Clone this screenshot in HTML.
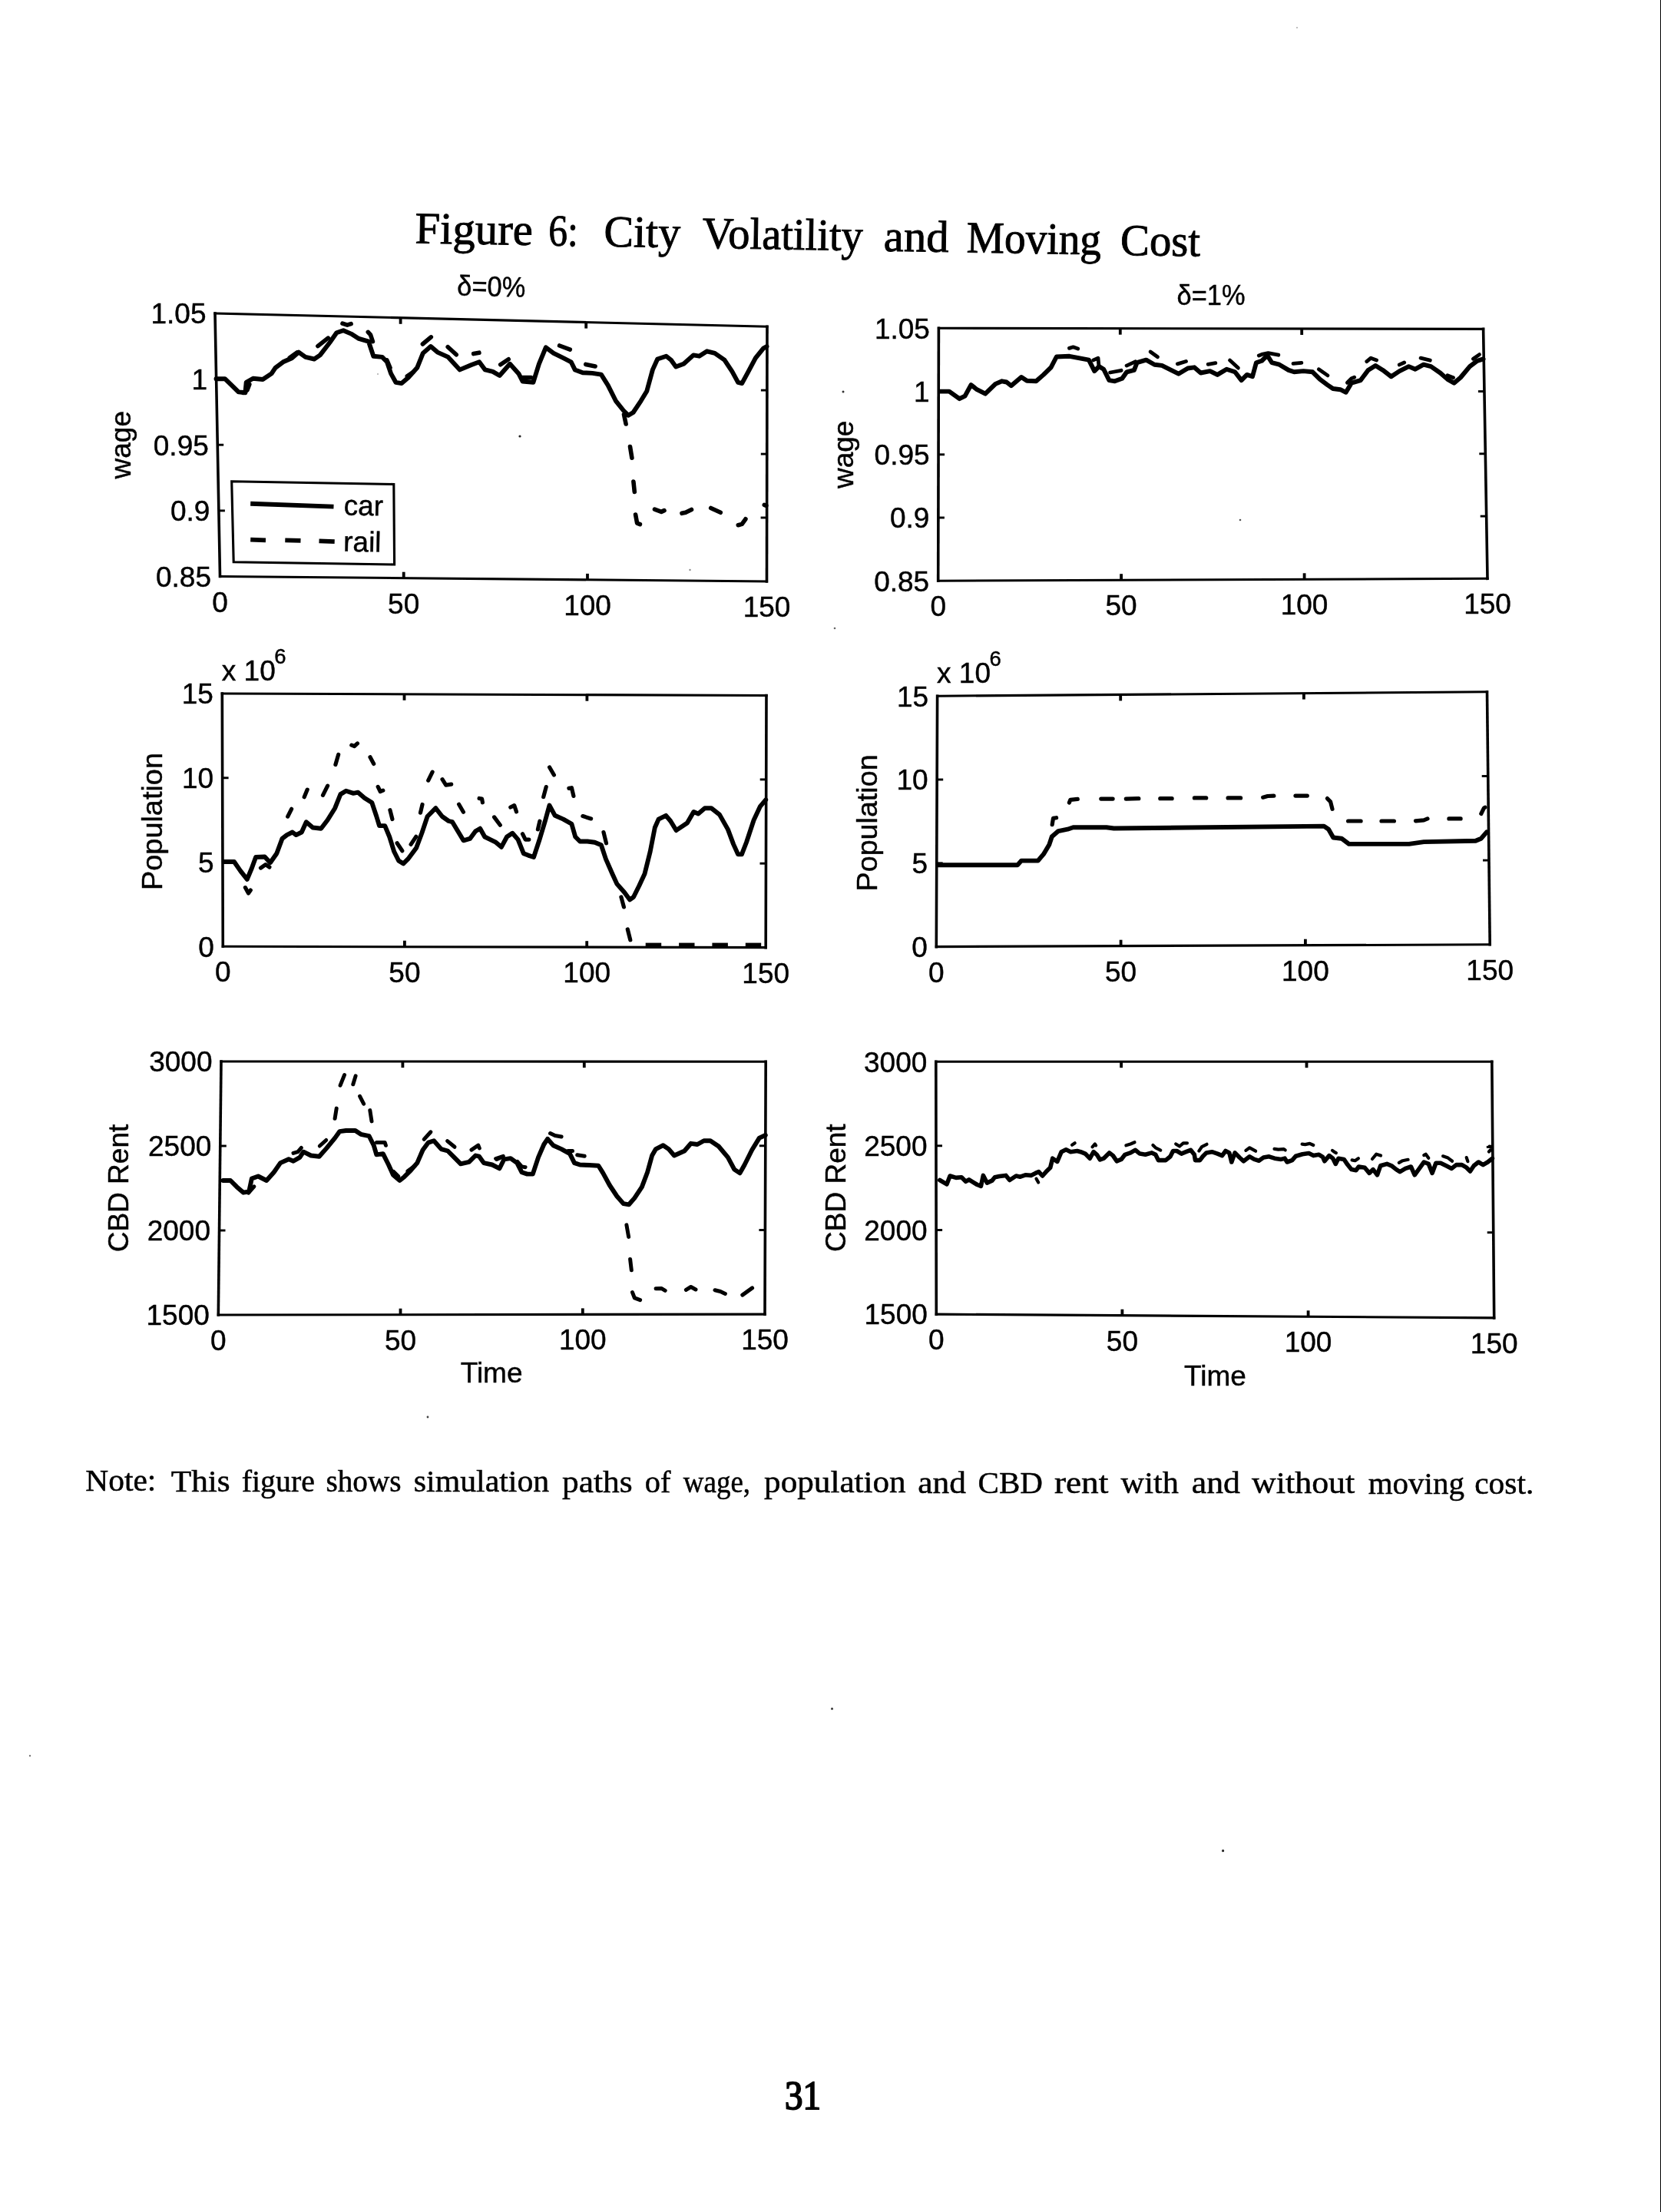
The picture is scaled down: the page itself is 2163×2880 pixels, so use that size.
<!DOCTYPE html>
<html><head><meta charset="utf-8"><title>Figure 6</title>
<style>html,body{margin:0;padding:0;background:#fff;}svg{display:block;}</style></head>
<body>
<svg width="2163" height="2880" viewBox="0 0 2163 2880">
<rect width="2163" height="2880" fill="#fff"/>
<defs><filter id="sc" x="0" y="0" width="100%" height="100%" filterUnits="objectBoundingBox"><feGaussianBlur stdDeviation="0.55"/></filter></defs>
<g filter="url(#sc)">
<rect width="2163" height="2880" fill="#fff"/>
<text x="540.2" y="316.6" font-size="58" font-family='"Liberation Serif", serif' text-anchor="start" transform="rotate(0.9 540.2 316.6)" textLength="153.4" lengthAdjust="spacingAndGlyphs" stroke="#000" stroke-width="0.9">Figure</text>
<text x="713.9" y="319.5" font-size="58" font-family='"Liberation Serif", serif' text-anchor="start" transform="rotate(0.9 713.9 319.5)" textLength="38.7" lengthAdjust="spacingAndGlyphs" stroke="#000" stroke-width="0.9">6:</text>
<text x="786.3" y="320.7" font-size="58" font-family='"Liberation Serif", serif' text-anchor="start" transform="rotate(0.9 786.3 320.7)" textLength="99.5" lengthAdjust="spacingAndGlyphs" stroke="#000" stroke-width="0.9">City</text>
<text x="914.5" y="322.8" font-size="58" font-family='"Liberation Serif", serif' text-anchor="start" transform="rotate(0.9 914.5 322.8)" textLength="209.1" lengthAdjust="spacingAndGlyphs" stroke="#000" stroke-width="0.9">Volatility</text>
<text x="1150.6" y="326.7" font-size="58" font-family='"Liberation Serif", serif' text-anchor="start" transform="rotate(0.9 1150.6 326.7)" textLength="84.7" lengthAdjust="spacingAndGlyphs" stroke="#000" stroke-width="0.9">and</text>
<text x="1258.5" y="328.5" font-size="58" font-family='"Liberation Serif", serif' text-anchor="start" transform="rotate(0.9 1258.5 328.5)" textLength="175.3" lengthAdjust="spacingAndGlyphs" stroke="#000" stroke-width="0.9">Moving</text>
<text x="1458.8" y="331.9" font-size="58" font-family='"Liberation Serif", serif' text-anchor="start" transform="rotate(0.9 1458.8 331.9)" textLength="104.1" lengthAdjust="spacingAndGlyphs" stroke="#000" stroke-width="0.9">Cost</text>
<line x1="280" y1="408" x2="999" y2="425.2" stroke="#000" stroke-width="3.1" stroke-linecap="square"/>
<line x1="286.5" y1="750.5" x2="998.5" y2="757" stroke="#000" stroke-width="3.1" stroke-linecap="square"/>
<line x1="280" y1="408" x2="286.5" y2="750.5" stroke="#000" stroke-width="3.6" stroke-linecap="square"/>
<line x1="999" y1="425.2" x2="998.5" y2="757" stroke="#000" stroke-width="3.6" stroke-linecap="square"/>
<line x1="521.6" y1="413.8" x2="521.6" y2="421.8" stroke="#000" stroke-width="3.8"/>
<line x1="525.7" y1="752.7" x2="525.7" y2="744.7" stroke="#000" stroke-width="3.8"/>
<line x1="763.2" y1="419.6" x2="763.2" y2="427.6" stroke="#000" stroke-width="3.8"/>
<line x1="765" y1="754.9" x2="765" y2="746.9" stroke="#000" stroke-width="3.8"/>
<line x1="281.6" y1="493.6" x2="289.6" y2="493.6" stroke="#000" stroke-width="2.9"/>
<line x1="998.9" y1="508.1" x2="990.9" y2="508.1" stroke="#000" stroke-width="2.9"/>
<line x1="283.2" y1="579.2" x2="291.2" y2="579.2" stroke="#000" stroke-width="2.9"/>
<line x1="998.8" y1="591.1" x2="990.8" y2="591.1" stroke="#000" stroke-width="2.9"/>
<line x1="284.9" y1="664.9" x2="292.9" y2="664.9" stroke="#000" stroke-width="2.9"/>
<line x1="998.6" y1="674" x2="990.6" y2="674" stroke="#000" stroke-width="2.9"/>
<text x="268.5" y="421.3" font-size="37" font-family='"Liberation Sans", sans-serif' text-anchor="end"  stroke="#000" stroke-width="0.45">1.05</text>
<text x="270.1" y="506.9" font-size="37" font-family='"Liberation Sans", sans-serif' text-anchor="end"  stroke="#000" stroke-width="0.45">1</text>
<text x="271.8" y="592.5" font-size="37" font-family='"Liberation Sans", sans-serif' text-anchor="end"  stroke="#000" stroke-width="0.45">0.95</text>
<text x="273.4" y="678.2" font-size="37" font-family='"Liberation Sans", sans-serif' text-anchor="end"  stroke="#000" stroke-width="0.45">0.9</text>
<text x="275" y="763.8" font-size="37" font-family='"Liberation Sans", sans-serif' text-anchor="end"  stroke="#000" stroke-width="0.45">0.85</text>
<text x="286.5" y="796.5" font-size="37" font-family='"Liberation Sans", sans-serif' text-anchor="middle"  stroke="#000" stroke-width="0.45">0</text>
<text x="525.7" y="798.7" font-size="37" font-family='"Liberation Sans", sans-serif' text-anchor="middle"  stroke="#000" stroke-width="0.45">50</text>
<text x="765" y="800.9" font-size="37" font-family='"Liberation Sans", sans-serif' text-anchor="middle"  stroke="#000" stroke-width="0.45">100</text>
<text x="998.5" y="803" font-size="37" font-family='"Liberation Sans", sans-serif' text-anchor="middle"  stroke="#000" stroke-width="0.45">150</text>
<text x="169.8" y="579.2" font-size="37" font-family='"Liberation Sans", sans-serif' text-anchor="middle" transform="rotate(-90 169.8 579.2)"  stroke="#000" stroke-width="0.45">wage</text>
<text x="639.5" y="385.6" font-size="37" font-family='"Liberation Sans", sans-serif' text-anchor="middle" transform="rotate(1.3 639.5 385.6)" textLength="89" lengthAdjust="spacingAndGlyphs" stroke="#000" stroke-width="0.45">δ=0%</text>
<polyline points="316.7,511.4 321.9,507.9 324.8,500.4" fill="none" stroke="#000" stroke-width="5.6" stroke-linejoin="round" stroke-linecap="round"/>
<polyline points="446,421.1 452.2,423.2 457.1,421.6" fill="none" stroke="#000" stroke-width="5.6" stroke-linejoin="round" stroke-linecap="round"/>
<polyline points="413.9,450.6 427.2,440.1" fill="none" stroke="#000" stroke-width="5.6" stroke-linejoin="round" stroke-linecap="round"/>
<polyline points="479.3,432.4 482.5,435.9 485.4,444.6" fill="none" stroke="#000" stroke-width="5.6" stroke-linejoin="round" stroke-linecap="round"/>
<polyline points="377.3,465.8 386.7,459" fill="none" stroke="#000" stroke-width="5.6" stroke-linejoin="round" stroke-linecap="round"/>
<polyline points="550.4,448 561.3,438.9" fill="none" stroke="#000" stroke-width="5.6" stroke-linejoin="round" stroke-linecap="round"/>
<polyline points="583.2,451.7 594.2,461.8" fill="none" stroke="#000" stroke-width="5.6" stroke-linejoin="round" stroke-linecap="round"/>
<polyline points="616.7,460.6 623.9,459.2" fill="none" stroke="#000" stroke-width="5.6" stroke-linejoin="round" stroke-linecap="round"/>
<polyline points="651.7,474.8 662.2,467.7" fill="none" stroke="#000" stroke-width="5.6" stroke-linejoin="round" stroke-linecap="round"/>
<polyline points="503.8,468.8 508,478.8" fill="none" stroke="#000" stroke-width="5.6" stroke-linejoin="round" stroke-linecap="round"/>
<polyline points="530.3,489.9 538.4,484.2" fill="none" stroke="#000" stroke-width="5.6" stroke-linejoin="round" stroke-linecap="round"/>
<polyline points="680.7,491.5 691.6,491.5" fill="none" stroke="#000" stroke-width="5.6" stroke-linejoin="round" stroke-linecap="round"/>
<polyline points="728.6,450 742.3,455.1" fill="none" stroke="#000" stroke-width="5.6" stroke-linejoin="round" stroke-linecap="round"/>
<polyline points="762.8,474.4 775.1,477" fill="none" stroke="#000" stroke-width="5.6" stroke-linejoin="round" stroke-linecap="round"/>
<polyline points="812.5,539.7 815.1,552" fill="none" stroke="#000" stroke-width="5.6" stroke-linejoin="round" stroke-linecap="round"/>
<polyline points="820.5,581.5 822.9,596.2" fill="none" stroke="#000" stroke-width="5.6" stroke-linejoin="round" stroke-linecap="round"/>
<polyline points="824.9,627 826.3,640.4" fill="none" stroke="#000" stroke-width="5.6" stroke-linejoin="round" stroke-linecap="round"/>
<polyline points="827.6,670 829.6,681.1 833.4,682.6" fill="none" stroke="#000" stroke-width="5.6" stroke-linejoin="round" stroke-linecap="round"/>
<polyline points="852.5,663.1 861.2,666.4 865,664.6" fill="none" stroke="#000" stroke-width="5.6" stroke-linejoin="round" stroke-linecap="round"/>
<polyline points="888,668.3 892.8,667.2 900.5,663.4" fill="none" stroke="#000" stroke-width="5.6" stroke-linejoin="round" stroke-linecap="round"/>
<polyline points="925.7,661.5 938.3,667.3" fill="none" stroke="#000" stroke-width="5.6" stroke-linejoin="round" stroke-linecap="round"/>
<polyline points="961.3,683.7 966.2,682.4 970.9,675.8" fill="none" stroke="#000" stroke-width="5.6" stroke-linejoin="round" stroke-linecap="round"/>
<polyline points="995.3,657.4 997.8,658.4" fill="none" stroke="#000" stroke-width="5.6" stroke-linejoin="round" stroke-linecap="round"/>
<polyline points="281.5,493.2 292.9,493.2 301.7,501.6 310.6,510.4 319.4,511.2 320.7,497.8 329.5,492.7 342.2,494 353.6,486.4 358.6,478.8 368.7,471.3 380.1,466.2 389,458.6 397.8,464.9 409.2,467.5 416.8,462.4 429.4,446 438.3,433.3 447.1,430.3 457.2,434.6 467.3,440.9 480,444.7 486.3,463.7 497.7,464.9 504,471.3 509.1,486.4 515.4,497.8 523,499.1 531.8,491.5 543.2,478.8 550.8,459.9 560.9,451 569.7,458.6 583.6,464.9 598.8,481.4 614,475 624.1,471.3 631.7,481.4 641.8,483.9 650.6,489 664,473.8 675.4,486.4 680.5,496.5 694.4,497.8 701.9,473.8 710.8,452.3 720.9,459.9 733.6,466.2 743.7,471.3 748.7,481.4 758.8,485.2 771.5,485.9 782.9,487.7 791.7,501.6 801.8,521.8 811.9,534.5 818.3,540.8 824.6,537 834.7,521.8 842.3,509.2 849.9,481.4 856.2,467.5 867.6,463.7 873.9,468.7 880.2,477.6 890.3,473.8 903,462.4 910.5,463.7 920.7,457.3 930.8,459.9 943.4,468.7 953.5,483.9 961.1,497.8 966.2,499.1 973.8,485.2 983.9,466.2 994,453.6 998.5,451" fill="none" stroke="#000" stroke-width="5.9" stroke-linejoin="round" stroke-linecap="round"/>
<line x1="1222.4" y1="427.3" x2="1931.6" y2="428.4" stroke="#000" stroke-width="3.1" stroke-linecap="square"/>
<line x1="1221.7" y1="756.2" x2="1937" y2="753.3" stroke="#000" stroke-width="3.1" stroke-linecap="square"/>
<line x1="1222.4" y1="427.3" x2="1221.7" y2="756.2" stroke="#000" stroke-width="3.6" stroke-linecap="square"/>
<line x1="1931.6" y1="428.4" x2="1937" y2="753.3" stroke="#000" stroke-width="3.6" stroke-linecap="square"/>
<line x1="1458.8" y1="427.7" x2="1458.8" y2="435.7" stroke="#000" stroke-width="3.8"/>
<line x1="1460.1" y1="755.2" x2="1460.1" y2="747.2" stroke="#000" stroke-width="3.8"/>
<line x1="1695.2" y1="428" x2="1695.2" y2="436" stroke="#000" stroke-width="3.8"/>
<line x1="1698.6" y1="754.3" x2="1698.6" y2="746.3" stroke="#000" stroke-width="3.8"/>
<line x1="1222.2" y1="509.5" x2="1230.2" y2="509.5" stroke="#000" stroke-width="2.9"/>
<line x1="1932.9" y1="509.6" x2="1924.9" y2="509.6" stroke="#000" stroke-width="2.9"/>
<line x1="1222.1" y1="591.8" x2="1230.1" y2="591.8" stroke="#000" stroke-width="2.9"/>
<line x1="1934.3" y1="590.8" x2="1926.3" y2="590.8" stroke="#000" stroke-width="2.9"/>
<line x1="1221.9" y1="674" x2="1229.9" y2="674" stroke="#000" stroke-width="2.9"/>
<line x1="1935.7" y1="672.1" x2="1927.7" y2="672.1" stroke="#000" stroke-width="2.9"/>
<text x="1210.9" y="440.6" font-size="37" font-family='"Liberation Sans", sans-serif' text-anchor="end"  stroke="#000" stroke-width="0.45">1.05</text>
<text x="1210.7" y="522.8" font-size="37" font-family='"Liberation Sans", sans-serif' text-anchor="end"  stroke="#000" stroke-width="0.45">1</text>
<text x="1210.6" y="605" font-size="37" font-family='"Liberation Sans", sans-serif' text-anchor="end"  stroke="#000" stroke-width="0.45">0.95</text>
<text x="1210.4" y="687.3" font-size="37" font-family='"Liberation Sans", sans-serif' text-anchor="end"  stroke="#000" stroke-width="0.45">0.9</text>
<text x="1210.2" y="769.5" font-size="37" font-family='"Liberation Sans", sans-serif' text-anchor="end"  stroke="#000" stroke-width="0.45">0.85</text>
<text x="1221.7" y="802.2" font-size="37" font-family='"Liberation Sans", sans-serif' text-anchor="middle"  stroke="#000" stroke-width="0.45">0</text>
<text x="1460.1" y="801.2" font-size="37" font-family='"Liberation Sans", sans-serif' text-anchor="middle"  stroke="#000" stroke-width="0.45">50</text>
<text x="1698.6" y="800.3" font-size="37" font-family='"Liberation Sans", sans-serif' text-anchor="middle"  stroke="#000" stroke-width="0.45">100</text>
<text x="1937" y="799.3" font-size="37" font-family='"Liberation Sans", sans-serif' text-anchor="middle"  stroke="#000" stroke-width="0.45">150</text>
<text x="1111.3" y="591.8" font-size="37" font-family='"Liberation Sans", sans-serif' text-anchor="middle" transform="rotate(-90 1111.3 591.8)"  stroke="#000" stroke-width="0.45">wage</text>
<text x="1577" y="396.9" font-size="37" font-family='"Liberation Sans", sans-serif' text-anchor="middle" textLength="89" lengthAdjust="spacingAndGlyphs" stroke="#000" stroke-width="0.45">δ=1%</text>
<polyline points="1392.5,453.4 1397.5,451.8 1403.7,454.1" fill="none" stroke="#000" stroke-width="4.8" stroke-linejoin="round" stroke-linecap="round"/>
<polyline points="1423.8,468.9 1430,466.2 1431,477.1" fill="none" stroke="#000" stroke-width="4.8" stroke-linejoin="round" stroke-linecap="round"/>
<polyline points="1445.6,485 1460.1,482.3" fill="none" stroke="#000" stroke-width="4.8" stroke-linejoin="round" stroke-linecap="round"/>
<polyline points="1467.1,476.1 1478.4,470.8" fill="none" stroke="#000" stroke-width="4.8" stroke-linejoin="round" stroke-linecap="round"/>
<polyline points="1498.1,458 1507.5,464.8" fill="none" stroke="#000" stroke-width="4.8" stroke-linejoin="round" stroke-linecap="round"/>
<polyline points="1533.4,473.9 1544.5,470.5" fill="none" stroke="#000" stroke-width="4.8" stroke-linejoin="round" stroke-linecap="round"/>
<polyline points="1573.2,474.3 1582.9,472.6" fill="none" stroke="#000" stroke-width="4.8" stroke-linejoin="round" stroke-linecap="round"/>
<polyline points="1601.5,469.1 1612.4,479.1" fill="none" stroke="#000" stroke-width="4.8" stroke-linejoin="round" stroke-linecap="round"/>
<polyline points="1639.3,462.9 1643.1,461.4 1651.5,459.7 1664.8,462.2" fill="none" stroke="#000" stroke-width="4.8" stroke-linejoin="round" stroke-linecap="round"/>
<polyline points="1684,473.3 1694.9,472.4" fill="none" stroke="#000" stroke-width="4.8" stroke-linejoin="round" stroke-linecap="round"/>
<polyline points="1717.3,480.8 1729,488.9" fill="none" stroke="#000" stroke-width="4.8" stroke-linejoin="round" stroke-linecap="round"/>
<polyline points="1754.4,498.2 1759.9,492.7 1763.7,491.2" fill="none" stroke="#000" stroke-width="4.8" stroke-linejoin="round" stroke-linecap="round"/>
<polyline points="1779.8,470.7 1785.2,466.2 1792.6,469" fill="none" stroke="#000" stroke-width="4.8" stroke-linejoin="round" stroke-linecap="round"/>
<polyline points="1822.3,474.9 1828.7,472" fill="none" stroke="#000" stroke-width="4.8" stroke-linejoin="round" stroke-linecap="round"/>
<polyline points="1850.1,466.1 1862.3,469.2" fill="none" stroke="#000" stroke-width="4.8" stroke-linejoin="round" stroke-linecap="round"/>
<polyline points="1884.9,488.8 1892.5,491.8" fill="none" stroke="#000" stroke-width="4.8" stroke-linejoin="round" stroke-linecap="round"/>
<polyline points="1918.4,467.3 1926.5,461.6" fill="none" stroke="#000" stroke-width="4.8" stroke-linejoin="round" stroke-linecap="round"/>
<polyline points="1224.1,509.6 1236.1,509.6 1249.4,519.2 1256.6,515.6 1264.5,501.1 1272.2,507.2 1283.1,512.7 1296.3,499.9 1304.8,496.3 1310.8,497.5 1316.8,502.3 1330,491 1337.3,495.8 1349.3,496.3 1358.9,487.9 1368.6,478.3 1375.8,464.5 1392.7,463.8 1404.7,466.2 1417.9,468.6 1425.2,483.1 1431.2,477.1 1437.2,480.7 1444.4,495.1 1451.7,496.3 1461.3,492.7 1467.3,484.3 1476.9,481.9 1480.6,472.2 1492.6,468.6 1503.4,474.7 1513.1,475.9 1525.1,481.9 1534.7,486.7 1546.8,479.5 1555.2,478.3 1563.6,485.5 1575.7,483.1 1585.3,487.9 1597.3,480.7 1608.2,484.3 1616.6,495.1 1623.8,487.9 1631,490.3 1635.9,472.2 1643.1,469.8 1650.3,462.6 1656.3,472.2 1666,474.7 1678,481.9 1685.2,484.3 1697.3,483.1 1709.3,484.3 1718.9,493.9 1728.6,501.1 1735.8,506 1745.4,507.2 1752.7,510.8 1759.9,498.7 1771.9,495.1 1781.6,481.9 1791.2,475.9 1800.8,481.9 1811.7,490.3 1822.5,483.1 1834.5,477.1 1843,480.7 1853.8,474.7 1863.4,477.1 1875.5,485.5 1885.1,493.9 1893.5,498.7 1902,491.5 1914,477.1 1923.6,469.8 1931.6,467.4" fill="none" stroke="#000" stroke-width="5.9" stroke-linejoin="round" stroke-linecap="round"/>
<line x1="289.3" y1="903" x2="998" y2="905.5" stroke="#000" stroke-width="3.1" stroke-linecap="square"/>
<line x1="290.3" y1="1232.3" x2="997.2" y2="1233.6" stroke="#000" stroke-width="3.1" stroke-linecap="square"/>
<line x1="289.3" y1="903" x2="290.3" y2="1232.3" stroke="#000" stroke-width="3.6" stroke-linecap="square"/>
<line x1="998" y1="905.5" x2="997.2" y2="1233.6" stroke="#000" stroke-width="3.6" stroke-linecap="square"/>
<line x1="526.5" y1="903.8" x2="526.5" y2="911.8" stroke="#000" stroke-width="3.8"/>
<line x1="526.9" y1="1232.7" x2="526.9" y2="1224.7" stroke="#000" stroke-width="3.8"/>
<line x1="764.4" y1="904.7" x2="764.4" y2="912.7" stroke="#000" stroke-width="3.8"/>
<line x1="764.2" y1="1233.2" x2="764.2" y2="1225.2" stroke="#000" stroke-width="3.8"/>
<line x1="289.6" y1="1012.8" x2="297.6" y2="1012.8" stroke="#000" stroke-width="2.9"/>
<line x1="997.7" y1="1014.9" x2="989.7" y2="1014.9" stroke="#000" stroke-width="2.9"/>
<line x1="290" y1="1122.5" x2="298" y2="1122.5" stroke="#000" stroke-width="2.9"/>
<line x1="997.5" y1="1124.2" x2="989.5" y2="1124.2" stroke="#000" stroke-width="2.9"/>
<text x="277.8" y="916.3" font-size="37" font-family='"Liberation Sans", sans-serif' text-anchor="end"  stroke="#000" stroke-width="0.45">15</text>
<text x="278.1" y="1026.1" font-size="37" font-family='"Liberation Sans", sans-serif' text-anchor="end"  stroke="#000" stroke-width="0.45">10</text>
<text x="278.5" y="1135.8" font-size="37" font-family='"Liberation Sans", sans-serif' text-anchor="end"  stroke="#000" stroke-width="0.45">5</text>
<text x="278.8" y="1245.6" font-size="37" font-family='"Liberation Sans", sans-serif' text-anchor="end"  stroke="#000" stroke-width="0.45">0</text>
<text x="290.3" y="1278.3" font-size="37" font-family='"Liberation Sans", sans-serif' text-anchor="middle"  stroke="#000" stroke-width="0.45">0</text>
<text x="526.9" y="1278.7" font-size="37" font-family='"Liberation Sans", sans-serif' text-anchor="middle"  stroke="#000" stroke-width="0.45">50</text>
<text x="764.2" y="1279.2" font-size="37" font-family='"Liberation Sans", sans-serif' text-anchor="middle"  stroke="#000" stroke-width="0.45">100</text>
<text x="997.2" y="1279.6" font-size="37" font-family='"Liberation Sans", sans-serif' text-anchor="middle"  stroke="#000" stroke-width="0.45">150</text>
<text x="210.9" y="1069.5" font-size="37" font-family='"Liberation Sans", sans-serif' text-anchor="middle" transform="rotate(-90 210.9 1069.5)" textLength="179" lengthAdjust="spacingAndGlyphs" stroke="#000" stroke-width="0.45">Population</text>
<text x="288.8" y="885.5" font-size="37" font-family='"Liberation Sans", sans-serif' text-anchor="start"  stroke="#000" stroke-width="0.45">x 10</text>
<text x="357.3" y="864" font-size="27.5" font-family='"Liberation Sans", sans-serif' text-anchor="start"  stroke="#000" stroke-width="0.45">6</text>
<polyline points="319.4,1155.6 323.5,1163 326.3,1159.1" fill="none" stroke="#000" stroke-width="5.2" stroke-linejoin="round" stroke-linecap="round"/>
<polyline points="339.5,1130.1 345.9,1125.6 350.9,1129" fill="none" stroke="#000" stroke-width="5.2" stroke-linejoin="round" stroke-linecap="round"/>
<polyline points="374.7,1063.1 379.6,1053.3" fill="none" stroke="#000" stroke-width="5.2" stroke-linejoin="round" stroke-linecap="round"/>
<polyline points="396.2,1037.7 400.2,1028.1" fill="none" stroke="#000" stroke-width="5.2" stroke-linejoin="round" stroke-linecap="round"/>
<polyline points="420.5,1035.4 426.6,1023.2" fill="none" stroke="#000" stroke-width="5.2" stroke-linejoin="round" stroke-linecap="round"/>
<polyline points="436.9,995.5 440.7,982.4" fill="none" stroke="#000" stroke-width="5.2" stroke-linejoin="round" stroke-linecap="round"/>
<polyline points="457.8,970.1 461.5,971.5 465.5,967.9" fill="none" stroke="#000" stroke-width="5.2" stroke-linejoin="round" stroke-linecap="round"/>
<polyline points="482,985.8 486.7,994.5" fill="none" stroke="#000" stroke-width="5.2" stroke-linejoin="round" stroke-linecap="round"/>
<polyline points="492.2,1024.4 495.2,1030.5 498.8,1029.1" fill="none" stroke="#000" stroke-width="5.2" stroke-linejoin="round" stroke-linecap="round"/>
<polyline points="507.9,1054.7 510.9,1066.5" fill="none" stroke="#000" stroke-width="5.2" stroke-linejoin="round" stroke-linecap="round"/>
<polyline points="517.1,1097.7 523.8,1107.8" fill="none" stroke="#000" stroke-width="5.2" stroke-linejoin="round" stroke-linecap="round"/>
<polyline points="535.1,1099.4 541.9,1089.3" fill="none" stroke="#000" stroke-width="5.2" stroke-linejoin="round" stroke-linecap="round"/>
<polyline points="547.5,1058.1 550,1047.5" fill="none" stroke="#000" stroke-width="5.2" stroke-linejoin="round" stroke-linecap="round"/>
<polyline points="557.7,1016.1 563.1,1005.2" fill="none" stroke="#000" stroke-width="5.2" stroke-linejoin="round" stroke-linecap="round"/>
<polyline points="576,1014.7 580.7,1022.1 587.7,1021.2" fill="none" stroke="#000" stroke-width="5.2" stroke-linejoin="round" stroke-linecap="round"/>
<polyline points="597.6,1047.2 603.4,1057.2" fill="none" stroke="#000" stroke-width="5.2" stroke-linejoin="round" stroke-linecap="round"/>
<polyline points="624.1,1039.5 627.6,1040.1 628.4,1044.8" fill="none" stroke="#000" stroke-width="5.2" stroke-linejoin="round" stroke-linecap="round"/>
<polyline points="643.6,1063.9 651.3,1074.2" fill="none" stroke="#000" stroke-width="5.2" stroke-linejoin="round" stroke-linecap="round"/>
<polyline points="664.8,1051 669.7,1048.6 672.5,1056.9" fill="none" stroke="#000" stroke-width="5.2" stroke-linejoin="round" stroke-linecap="round"/>
<polyline points="680.5,1085.8 684.2,1093.1 688.8,1093.1" fill="none" stroke="#000" stroke-width="5.2" stroke-linejoin="round" stroke-linecap="round"/>
<polyline points="700.4,1079.8 702.9,1069.2" fill="none" stroke="#000" stroke-width="5.2" stroke-linejoin="round" stroke-linecap="round"/>
<polyline points="707.7,1037.6 711.2,1024.6" fill="none" stroke="#000" stroke-width="5.2" stroke-linejoin="round" stroke-linecap="round"/>
<polyline points="715.6,999 721.4,1009" fill="none" stroke="#000" stroke-width="5.2" stroke-linejoin="round" stroke-linecap="round"/>
<polyline points="740.9,1026.4 744.4,1025.7 746.9,1036.4" fill="none" stroke="#000" stroke-width="5.2" stroke-linejoin="round" stroke-linecap="round"/>
<polyline points="758.9,1062.6 769.6,1065.9" fill="none" stroke="#000" stroke-width="5.2" stroke-linejoin="round" stroke-linecap="round"/>
<polyline points="786,1083.6 789.5,1097.8" fill="none" stroke="#000" stroke-width="5.2" stroke-linejoin="round" stroke-linecap="round"/>
<polyline points="808.9,1167.9 812.4,1180.9" fill="none" stroke="#000" stroke-width="5.2" stroke-linejoin="round" stroke-linecap="round"/>
<polyline points="817.3,1210 820.8,1223.8" fill="none" stroke="#000" stroke-width="5.2" stroke-linejoin="round" stroke-linecap="round"/>
<polyline points="291.7,1122 304.9,1122 313.3,1134.1 321.8,1144.9 327.8,1130.5 333.1,1116 344.7,1115.5 351.9,1123.2 360.3,1111.2 367.5,1091.9 373.6,1087.1 380.8,1083.5 385.6,1087.1 392.8,1083.5 398.8,1070.2 407.3,1077.5 418.1,1078.7 426.5,1067.8 436.2,1052.2 443.4,1034.1 450.6,1029.8 460.2,1032.9 466.3,1031.7 474.7,1038.9 484.3,1045 490.3,1063 494,1075.1 501.2,1075.1 507.2,1089.5 513.2,1108.8 519.2,1120.8 525.3,1124.4 531.3,1118.4 542.1,1104 549.3,1084.7 556.6,1063 567.4,1052.2 575.8,1063 584.3,1069 589.1,1070.2 596.3,1082.3 603.5,1094.3 612,1091.9 619.2,1082.3 625.2,1078.7 631.2,1089.5 638.5,1093.1 645.7,1096.7 652.9,1102.8 660.1,1089.5 667.3,1084.7 674.6,1093.1 681.8,1111.2 687.8,1113.6 695,1116 702.2,1094.3 709.5,1070.2 715.5,1048.6 722.7,1061.8 733.6,1066.6 744.4,1072.7 749.2,1089.5 755.2,1095.5 764.9,1095.5 774.5,1096.7 782.9,1100.3 788.9,1118.4 797.4,1137.7 803.4,1150.9 813,1161.8 820.2,1171.4 825.1,1167.8 832.3,1153.3 839.5,1137.7 846.7,1108.8 852.8,1077.5 857.6,1066.6 867.2,1061.8 873.2,1069 880.5,1081.1 894.9,1071.5 903.3,1057 909.3,1059.4 917.8,1052.2 926.2,1052.2 937,1060.6 947.9,1079.9 955.1,1099.1 961.1,1112.4 965.9,1112.4 972,1096.7 981.6,1067.8 990,1049.8 997.2,1041.3" fill="none" stroke="#000" stroke-width="5.9" stroke-linejoin="round" stroke-linecap="round"/>
<line x1="1220.6" y1="906.2" x2="1936.5" y2="900.8" stroke="#000" stroke-width="3.1" stroke-linecap="square"/>
<line x1="1219.3" y1="1232.6" x2="1940.2" y2="1229.8" stroke="#000" stroke-width="3.1" stroke-linecap="square"/>
<line x1="1220.6" y1="906.2" x2="1219.3" y2="1232.6" stroke="#000" stroke-width="3.6" stroke-linecap="square"/>
<line x1="1936.5" y1="900.8" x2="1940.2" y2="1229.8" stroke="#000" stroke-width="3.6" stroke-linecap="square"/>
<line x1="1459.2" y1="904.4" x2="1459.2" y2="912.4" stroke="#000" stroke-width="3.8"/>
<line x1="1459.6" y1="1231.7" x2="1459.6" y2="1223.7" stroke="#000" stroke-width="3.8"/>
<line x1="1697.9" y1="902.6" x2="1697.9" y2="910.6" stroke="#000" stroke-width="3.8"/>
<line x1="1699.9" y1="1230.7" x2="1699.9" y2="1222.7" stroke="#000" stroke-width="3.8"/>
<line x1="1220.2" y1="1015" x2="1228.2" y2="1015" stroke="#000" stroke-width="2.9"/>
<line x1="1937.7" y1="1010.5" x2="1929.7" y2="1010.5" stroke="#000" stroke-width="2.9"/>
<line x1="1219.7" y1="1123.8" x2="1227.7" y2="1123.8" stroke="#000" stroke-width="2.9"/>
<line x1="1939" y1="1120.1" x2="1931" y2="1120.1" stroke="#000" stroke-width="2.9"/>
<text x="1209.1" y="919.5" font-size="37" font-family='"Liberation Sans", sans-serif' text-anchor="end"  stroke="#000" stroke-width="0.45">15</text>
<text x="1208.7" y="1028.3" font-size="37" font-family='"Liberation Sans", sans-serif' text-anchor="end"  stroke="#000" stroke-width="0.45">10</text>
<text x="1208.2" y="1137.1" font-size="37" font-family='"Liberation Sans", sans-serif' text-anchor="end"  stroke="#000" stroke-width="0.45">5</text>
<text x="1207.8" y="1245.9" font-size="37" font-family='"Liberation Sans", sans-serif' text-anchor="end"  stroke="#000" stroke-width="0.45">0</text>
<text x="1219.3" y="1278.6" font-size="37" font-family='"Liberation Sans", sans-serif' text-anchor="middle"  stroke="#000" stroke-width="0.45">0</text>
<text x="1459.6" y="1277.7" font-size="37" font-family='"Liberation Sans", sans-serif' text-anchor="middle"  stroke="#000" stroke-width="0.45">50</text>
<text x="1699.9" y="1276.7" font-size="37" font-family='"Liberation Sans", sans-serif' text-anchor="middle"  stroke="#000" stroke-width="0.45">100</text>
<text x="1940.2" y="1275.8" font-size="37" font-family='"Liberation Sans", sans-serif' text-anchor="middle"  stroke="#000" stroke-width="0.45">150</text>
<text x="1142.4" y="1071.4" font-size="37" font-family='"Liberation Sans", sans-serif' text-anchor="middle" transform="rotate(-90 1142.4 1071.4)" textLength="178" lengthAdjust="spacingAndGlyphs" stroke="#000" stroke-width="0.45">Population</text>
<text x="1220.1" y="888.7" font-size="37" font-family='"Liberation Sans", sans-serif' text-anchor="start"  stroke="#000" stroke-width="0.45">x 10</text>
<text x="1288.6" y="867.2" font-size="27.5" font-family='"Liberation Sans", sans-serif' text-anchor="start"  stroke="#000" stroke-width="0.45">6</text>
<polyline points="1370.2,1073.7 1371.5,1065.4 1375.6,1064.7" fill="none" stroke="#000" stroke-width="5.2" stroke-linejoin="round" stroke-linecap="round"/>
<polyline points="1392.4,1045 1393.9,1041.3 1403.3,1040.4" fill="none" stroke="#000" stroke-width="5.2" stroke-linejoin="round" stroke-linecap="round"/>
<polyline points="1433.8,1040.1 1449.1,1040.1" fill="none" stroke="#000" stroke-width="5.2" stroke-linejoin="round" stroke-linecap="round"/>
<polyline points="1466.3,1040.1 1482.8,1039.7" fill="none" stroke="#000" stroke-width="5.2" stroke-linejoin="round" stroke-linecap="round"/>
<polyline points="1510.8,1039.7 1526.1,1039.7" fill="none" stroke="#000" stroke-width="5.2" stroke-linejoin="round" stroke-linecap="round"/>
<polyline points="1555.4,1038.9 1570.7,1038.9" fill="none" stroke="#000" stroke-width="5.2" stroke-linejoin="round" stroke-linecap="round"/>
<polyline points="1599.1,1038.9 1615.6,1038.9" fill="none" stroke="#000" stroke-width="5.2" stroke-linejoin="round" stroke-linecap="round"/>
<polyline points="1644.7,1038.2 1650.7,1036.5 1658.9,1036.2" fill="none" stroke="#000" stroke-width="5.2" stroke-linejoin="round" stroke-linecap="round"/>
<polyline points="1687,1036.1 1702.3,1036.1" fill="none" stroke="#000" stroke-width="5.2" stroke-linejoin="round" stroke-linecap="round"/>
<polyline points="1728.4,1039.6 1732.6,1043.8 1735,1053.3" fill="none" stroke="#000" stroke-width="5.2" stroke-linejoin="round" stroke-linecap="round"/>
<polyline points="1755.6,1069 1772.1,1069" fill="none" stroke="#000" stroke-width="5.2" stroke-linejoin="round" stroke-linecap="round"/>
<polyline points="1799,1069 1815.4,1069" fill="none" stroke="#000" stroke-width="5.2" stroke-linejoin="round" stroke-linecap="round"/>
<polyline points="1843.5,1068.8 1854.2,1067.8 1859,1065.9" fill="none" stroke="#000" stroke-width="5.2" stroke-linejoin="round" stroke-linecap="round"/>
<polyline points="1886.9,1065.9 1902.1,1065.9" fill="none" stroke="#000" stroke-width="5.2" stroke-linejoin="round" stroke-linecap="round"/>
<polyline points="1928.8,1059.5 1932.4,1052.2 1933.9,1051.2" fill="none" stroke="#000" stroke-width="5.2" stroke-linejoin="round" stroke-linecap="round"/>
<polyline points="1221.7,1126.2 1325.2,1126.2 1330,1120.6 1351.7,1120.6 1358.9,1112.2 1366.2,1100.1 1369.8,1089.3 1378.2,1082.1 1390.2,1079.7 1397.5,1077.3 1440.8,1077.3 1450.5,1078.5 1724.1,1075.6 1730.1,1079.7 1736.2,1090.5 1747,1091.7 1756.6,1098.9 1834.9,1098.9 1854.2,1096.1 1921.6,1094.8 1928.8,1091.7 1936,1083.3" fill="none" stroke="#000" stroke-width="5.9" stroke-linejoin="round" stroke-linecap="round"/>
<line x1="288" y1="1382" x2="997.2" y2="1382.2" stroke="#000" stroke-width="3.1" stroke-linecap="square"/>
<line x1="284.3" y1="1712" x2="996" y2="1711.1" stroke="#000" stroke-width="3.1" stroke-linecap="square"/>
<line x1="288" y1="1382" x2="284.3" y2="1712" stroke="#000" stroke-width="3.6" stroke-linecap="square"/>
<line x1="997.2" y1="1382.2" x2="996" y2="1711.1" stroke="#000" stroke-width="3.6" stroke-linecap="square"/>
<line x1="524.4" y1="1382.1" x2="524.4" y2="1390.1" stroke="#000" stroke-width="3.8"/>
<line x1="521.5" y1="1711.7" x2="521.5" y2="1703.7" stroke="#000" stroke-width="3.8"/>
<line x1="760.8" y1="1382.1" x2="760.8" y2="1390.1" stroke="#000" stroke-width="3.8"/>
<line x1="758.8" y1="1711.4" x2="758.8" y2="1703.4" stroke="#000" stroke-width="3.8"/>
<line x1="286.8" y1="1492" x2="294.8" y2="1492" stroke="#000" stroke-width="2.9"/>
<line x1="996.8" y1="1491.8" x2="988.8" y2="1491.8" stroke="#000" stroke-width="2.9"/>
<line x1="285.5" y1="1602" x2="293.5" y2="1602" stroke="#000" stroke-width="2.9"/>
<line x1="996.4" y1="1601.5" x2="988.4" y2="1601.5" stroke="#000" stroke-width="2.9"/>
<text x="276.5" y="1395.3" font-size="37" font-family='"Liberation Sans", sans-serif' text-anchor="end"  stroke="#000" stroke-width="0.45">3000</text>
<text x="275.3" y="1505.3" font-size="37" font-family='"Liberation Sans", sans-serif' text-anchor="end"  stroke="#000" stroke-width="0.45">2500</text>
<text x="274" y="1615.3" font-size="37" font-family='"Liberation Sans", sans-serif' text-anchor="end"  stroke="#000" stroke-width="0.45">2000</text>
<text x="272.8" y="1725.3" font-size="37" font-family='"Liberation Sans", sans-serif' text-anchor="end"  stroke="#000" stroke-width="0.45">1500</text>
<text x="284.3" y="1758" font-size="37" font-family='"Liberation Sans", sans-serif' text-anchor="middle"  stroke="#000" stroke-width="0.45">0</text>
<text x="521.5" y="1757.7" font-size="37" font-family='"Liberation Sans", sans-serif' text-anchor="middle"  stroke="#000" stroke-width="0.45">50</text>
<text x="758.8" y="1757.4" font-size="37" font-family='"Liberation Sans", sans-serif' text-anchor="middle"  stroke="#000" stroke-width="0.45">100</text>
<text x="996" y="1757.1" font-size="37" font-family='"Liberation Sans", sans-serif' text-anchor="middle"  stroke="#000" stroke-width="0.45">150</text>
<text x="167" y="1547" font-size="37" font-family='"Liberation Sans", sans-serif' text-anchor="middle" transform="rotate(-90 167 1547)"  stroke="#000" stroke-width="0.45">CBD Rent</text>
<text x="640.1" y="1800" font-size="37" font-family='"Liberation Sans", sans-serif' text-anchor="middle"  stroke="#000" stroke-width="0.45">Time</text>
<polyline points="323.4,1553.2 330.9,1544.9" fill="none" stroke="#000" stroke-width="5.0" stroke-linejoin="round" stroke-linecap="round"/>
<polyline points="382,1501.4 388,1499.7 392.4,1494.4" fill="none" stroke="#000" stroke-width="5.0" stroke-linejoin="round" stroke-linecap="round"/>
<polyline points="416.3,1492 424.7,1484.5" fill="none" stroke="#000" stroke-width="5.0" stroke-linejoin="round" stroke-linecap="round"/>
<polyline points="436.1,1456.3 438.2,1443.1" fill="none" stroke="#000" stroke-width="5.0" stroke-linejoin="round" stroke-linecap="round"/>
<polyline points="443.1,1413.1 448.5,1399.6" fill="none" stroke="#000" stroke-width="5.0" stroke-linejoin="round" stroke-linecap="round"/>
<polyline points="459.8,1411.8 463.1,1400.9" fill="none" stroke="#000" stroke-width="5.0" stroke-linejoin="round" stroke-linecap="round"/>
<polyline points="468.6,1427.3 473.6,1437.2" fill="none" stroke="#000" stroke-width="5.0" stroke-linejoin="round" stroke-linecap="round"/>
<polyline points="481.8,1445.6 484,1459.9" fill="none" stroke="#000" stroke-width="5.0" stroke-linejoin="round" stroke-linecap="round"/>
<polyline points="490.4,1487.6 501.2,1487.6 502.4,1491.3" fill="none" stroke="#000" stroke-width="5.0" stroke-linejoin="round" stroke-linecap="round"/>
<polyline points="512.6,1525.5 518.7,1531.6" fill="none" stroke="#000" stroke-width="5.0" stroke-linejoin="round" stroke-linecap="round"/>
<polyline points="530.9,1524.7 540.1,1518" fill="none" stroke="#000" stroke-width="5.0" stroke-linejoin="round" stroke-linecap="round"/>
<polyline points="552.2,1483.4 560.9,1473.8" fill="none" stroke="#000" stroke-width="5.0" stroke-linejoin="round" stroke-linecap="round"/>
<polyline points="582.6,1485.6 592,1493.3" fill="none" stroke="#000" stroke-width="5.0" stroke-linejoin="round" stroke-linecap="round"/>
<polyline points="614,1497.1 622.8,1491.2 624.3,1494.9" fill="none" stroke="#000" stroke-width="5.0" stroke-linejoin="round" stroke-linecap="round"/>
<polyline points="646.8,1509.5 653,1506.7" fill="none" stroke="#000" stroke-width="5.0" stroke-linejoin="round" stroke-linecap="round"/>
<polyline points="645.6,1508.5 655.3,1505.3" fill="none" stroke="#000" stroke-width="5.0" stroke-linejoin="round" stroke-linecap="round"/>
<polyline points="673.8,1512.4 679.4,1518.9 684.1,1519.7" fill="none" stroke="#000" stroke-width="5.0" stroke-linejoin="round" stroke-linecap="round"/>
<polyline points="716.5,1475.5 722.7,1478.5 731.1,1480" fill="none" stroke="#000" stroke-width="5.0" stroke-linejoin="round" stroke-linecap="round"/>
<polyline points="739.7,1498.5 745.5,1498.5" fill="none" stroke="#000" stroke-width="5.0" stroke-linejoin="round" stroke-linecap="round"/>
<polyline points="751.7,1503.7 761.2,1505.3" fill="none" stroke="#000" stroke-width="5.0" stroke-linejoin="round" stroke-linecap="round"/>
<polyline points="815.9,1594.9 818.6,1610.4" fill="none" stroke="#000" stroke-width="5.0" stroke-linejoin="round" stroke-linecap="round"/>
<polyline points="820.6,1639.4 822.3,1653.7" fill="none" stroke="#000" stroke-width="5.0" stroke-linejoin="round" stroke-linecap="round"/>
<polyline points="823.5,1682.6 826.3,1689.9 833.6,1692.7" fill="none" stroke="#000" stroke-width="5.0" stroke-linejoin="round" stroke-linecap="round"/>
<polyline points="854.1,1677.8 861.2,1677.4 866.2,1680.3" fill="none" stroke="#000" stroke-width="5.0" stroke-linejoin="round" stroke-linecap="round"/>
<polyline points="893.4,1679.4 899.7,1675.5 906,1679" fill="none" stroke="#000" stroke-width="5.0" stroke-linejoin="round" stroke-linecap="round"/>
<polyline points="931,1679.7 938.2,1681.5 944.4,1684.5" fill="none" stroke="#000" stroke-width="5.0" stroke-linejoin="round" stroke-linecap="round"/>
<polyline points="966.8,1686.1 979.6,1676.9" fill="none" stroke="#000" stroke-width="5.0" stroke-linejoin="round" stroke-linecap="round"/>
<polyline points="290.5,1537 300.1,1537 308.5,1545.4 317,1552.7 324.2,1551.5 327.8,1534.6 336.2,1531.5 347.1,1537 356.7,1526.2 365.1,1514.1 376,1509.3 382,1511.7 390.4,1506.9 395.2,1499.7 404.9,1504.5 415.7,1505.7 425.3,1494.9 436.2,1481.6 442.2,1473.2 450.6,1472 462.7,1472 469.9,1476.8 480.7,1479.2 486.7,1491.2 490.3,1503.3 498.8,1502.1 506,1516.5 512,1529.8 520.5,1537 526.5,1532.2 534.9,1523.8 543.3,1514.1 550.6,1497.3 557.8,1487.6 565,1485.2 574.6,1496.1 583.1,1498.5 591.5,1506.9 599.9,1515.3 610.8,1512.9 619.2,1504.5 624,1505.7 630,1514.1 640.9,1516.5 650.5,1521.3 656.5,1509.3 664.9,1508.1 673.3,1514.1 679.4,1526.2 686.6,1528.6 693.8,1528.6 701,1506.9 708.3,1490 713.1,1482.8 720.3,1491.2 731.1,1496.1 742,1502.1 748,1514.1 755.2,1516.5 767.3,1517 779.3,1517.7 785.3,1527.4 793.8,1543 803.4,1557.5 811.8,1567.1 819,1568.3 826.3,1559.9 835.9,1545.4 843.1,1526.2 849.1,1504.5 854,1496.1 863.6,1491.2 870.8,1496.1 878,1504.5 891.3,1498.5 899.7,1488.8 908.1,1490 916.6,1485.2 925,1485.2 935.8,1492.5 947.9,1506.9 956.3,1522.6 963.5,1527.4 969.6,1516.5 979.2,1497.3 988.8,1481.6 996.8,1478" fill="none" stroke="#000" stroke-width="5.9" stroke-linejoin="round" stroke-linecap="round"/>
<line x1="1218.8" y1="1382.2" x2="1942.8" y2="1382.2" stroke="#000" stroke-width="3.1" stroke-linecap="square"/>
<line x1="1219.3" y1="1711.1" x2="1945.7" y2="1715.9" stroke="#000" stroke-width="3.1" stroke-linecap="square"/>
<line x1="1218.8" y1="1382.2" x2="1219.3" y2="1711.1" stroke="#000" stroke-width="3.6" stroke-linecap="square"/>
<line x1="1942.8" y1="1382.2" x2="1945.7" y2="1715.9" stroke="#000" stroke-width="3.6" stroke-linecap="square"/>
<line x1="1460.1" y1="1382.2" x2="1460.1" y2="1390.2" stroke="#000" stroke-width="3.8"/>
<line x1="1461.4" y1="1712.7" x2="1461.4" y2="1704.7" stroke="#000" stroke-width="3.8"/>
<line x1="1701.5" y1="1382.2" x2="1701.5" y2="1390.2" stroke="#000" stroke-width="3.8"/>
<line x1="1703.6" y1="1714.3" x2="1703.6" y2="1706.3" stroke="#000" stroke-width="3.8"/>
<line x1="1219" y1="1491.8" x2="1227" y2="1491.8" stroke="#000" stroke-width="2.9"/>
<line x1="1943.8" y1="1493.4" x2="1935.8" y2="1493.4" stroke="#000" stroke-width="2.9"/>
<line x1="1219.1" y1="1601.5" x2="1227.1" y2="1601.5" stroke="#000" stroke-width="2.9"/>
<line x1="1944.7" y1="1604.7" x2="1936.7" y2="1604.7" stroke="#000" stroke-width="2.9"/>
<text x="1207.3" y="1395.5" font-size="37" font-family='"Liberation Sans", sans-serif' text-anchor="end"  stroke="#000" stroke-width="0.45">3000</text>
<text x="1207.5" y="1505.1" font-size="37" font-family='"Liberation Sans", sans-serif' text-anchor="end"  stroke="#000" stroke-width="0.45">2500</text>
<text x="1207.6" y="1614.8" font-size="37" font-family='"Liberation Sans", sans-serif' text-anchor="end"  stroke="#000" stroke-width="0.45">2000</text>
<text x="1207.8" y="1724.4" font-size="37" font-family='"Liberation Sans", sans-serif' text-anchor="end"  stroke="#000" stroke-width="0.45">1500</text>
<text x="1219.3" y="1757.1" font-size="37" font-family='"Liberation Sans", sans-serif' text-anchor="middle"  stroke="#000" stroke-width="0.45">0</text>
<text x="1461.4" y="1758.7" font-size="37" font-family='"Liberation Sans", sans-serif' text-anchor="middle"  stroke="#000" stroke-width="0.45">50</text>
<text x="1703.6" y="1760.3" font-size="37" font-family='"Liberation Sans", sans-serif' text-anchor="middle"  stroke="#000" stroke-width="0.45">100</text>
<text x="1945.7" y="1761.9" font-size="37" font-family='"Liberation Sans", sans-serif' text-anchor="middle"  stroke="#000" stroke-width="0.45">150</text>
<text x="1101" y="1546.7" font-size="37" font-family='"Liberation Sans", sans-serif' text-anchor="middle" transform="rotate(-90 1101 1546.7)"  stroke="#000" stroke-width="0.45">CBD Rent</text>
<text x="1582.5" y="1804" font-size="37" font-family='"Liberation Sans", sans-serif' text-anchor="middle"  stroke="#000" stroke-width="0.45">Time</text>
<polyline points="1349.5,1534.7 1352.2,1539.5" fill="none" stroke="#000" stroke-width="4.2" stroke-linejoin="round" stroke-linecap="round"/>
<polyline points="1396,1490.7 1399.7,1488.3" fill="none" stroke="#000" stroke-width="4.2" stroke-linejoin="round" stroke-linecap="round"/>
<polyline points="1422.5,1493.3 1425.9,1489.5 1427.1,1491.4" fill="none" stroke="#000" stroke-width="4.2" stroke-linejoin="round" stroke-linecap="round"/>
<polyline points="1466.4,1491.3 1472.2,1489.5 1477.5,1487.3" fill="none" stroke="#000" stroke-width="4.2" stroke-linejoin="round" stroke-linecap="round"/>
<polyline points="1501.4,1491 1504.8,1494.3 1511.3,1497.6" fill="none" stroke="#000" stroke-width="4.2" stroke-linejoin="round" stroke-linecap="round"/>
<polyline points="1531.2,1489.4 1536.1,1492.5 1540.9,1488.3 1546,1488.3" fill="none" stroke="#000" stroke-width="4.2" stroke-linejoin="round" stroke-linecap="round"/>
<polyline points="1561.3,1498.6 1565,1493.1 1571.5,1489.8" fill="none" stroke="#000" stroke-width="4.2" stroke-linejoin="round" stroke-linecap="round"/>
<polyline points="1622.4,1497.9 1627.3,1494.3 1635.1,1498.7" fill="none" stroke="#000" stroke-width="4.2" stroke-linejoin="round" stroke-linecap="round"/>
<polyline points="1659.5,1495.9 1664.7,1496.7 1671.9,1496.1 1673.7,1497.4" fill="none" stroke="#000" stroke-width="4.2" stroke-linejoin="round" stroke-linecap="round"/>
<polyline points="1695.6,1489.7 1699.6,1490.1 1705.6,1488.9 1710.3,1491" fill="none" stroke="#000" stroke-width="4.2" stroke-linejoin="round" stroke-linecap="round"/>
<polyline points="1735,1497.9 1737.5,1499.7 1739.9,1501.1" fill="none" stroke="#000" stroke-width="4.2" stroke-linejoin="round" stroke-linecap="round"/>
<polyline points="1760.6,1510.4 1764.6,1511.2 1768.9,1508.2" fill="none" stroke="#000" stroke-width="4.2" stroke-linejoin="round" stroke-linecap="round"/>
<polyline points="1787,1509 1792.3,1502.7 1798.1,1504.5" fill="none" stroke="#000" stroke-width="4.2" stroke-linejoin="round" stroke-linecap="round"/>
<polyline points="1821.8,1513.8 1826.6,1511.2 1833.6,1509.8" fill="none" stroke="#000" stroke-width="4.2" stroke-linejoin="round" stroke-linecap="round"/>
<polyline points="1854.3,1504.1 1856.7,1502.7 1860.3,1507.7" fill="none" stroke="#000" stroke-width="4.2" stroke-linejoin="round" stroke-linecap="round"/>
<polyline points="1879.1,1505.3 1885.6,1507.6 1891.1,1511.7" fill="none" stroke="#000" stroke-width="4.2" stroke-linejoin="round" stroke-linecap="round"/>
<polyline points="1909.7,1507.1 1911.4,1512.2" fill="none" stroke="#000" stroke-width="4.2" stroke-linejoin="round" stroke-linecap="round"/>
<polyline points="1939.5,1492.7 1941.3,1492.9" fill="none" stroke="#000" stroke-width="4.2" stroke-linejoin="round" stroke-linecap="round"/>
<polyline points="1938.9,1499.5 1941,1497.3" fill="none" stroke="#000" stroke-width="4.2" stroke-linejoin="round" stroke-linecap="round"/>
<polyline points="1223.8,1536.5 1232.9,1541.9 1237.1,1531 1244.9,1533.4 1252.1,1532.8 1257.6,1538.3 1261.8,1535.9 1266.6,1538.9 1272.6,1542.5 1277.4,1544.3 1280.4,1530.4 1285.3,1540.1 1291.9,1537.1 1295.5,1532.8 1301.5,1531.6 1309.9,1530.4 1314.8,1536.5 1323.2,1531 1328.6,1532.2 1335.2,1529.8 1342.5,1530.4 1348.5,1527.4 1352.7,1525.6 1357.5,1531 1362.3,1525.6 1367.7,1520.2 1370.7,1508.2 1376.8,1512.4 1382.2,1499.7 1388.2,1496.7 1394.2,1499.7 1402.7,1498.5 1407.2,1499.7 1413.2,1502.1 1419.3,1508.2 1424.1,1499.7 1428.3,1503.3 1432.5,1510 1437.3,1508.2 1444.6,1500.9 1449.4,1504.6 1454.2,1511.8 1460.2,1509.4 1465,1503.3 1472.2,1500.9 1478.3,1497.3 1484.3,1502.1 1491.5,1503.3 1499.9,1500.9 1504.8,1503.3 1508.4,1510.6 1518,1510.6 1524,1505.8 1527.6,1498.5 1532.5,1498.5 1538.5,1502.1 1544.5,1499.7 1550.5,1497.3 1555.3,1503.3 1556.5,1510.6 1562.6,1510.6 1566.2,1505.8 1571,1500.9 1578.2,1499.7 1585.4,1502.1 1591.5,1504.6 1596,1498.5 1600.8,1500.9 1603.8,1513 1608.1,1500.9 1614.1,1507 1619.5,1511.8 1627.3,1505.8 1633.3,1509.4 1639.4,1511.2 1645.4,1507 1652.6,1505.8 1659.8,1508.2 1668.3,1509.4 1673.1,1508.2 1676.1,1513 1682.7,1510.6 1687.5,1505.2 1696,1502.7 1704.4,1501.5 1710.4,1504.6 1717.6,1503.3 1722.5,1506.4 1724.9,1511.8 1730.9,1504.6 1735.7,1508.2 1739.3,1515.4 1742.9,1508.2 1750.1,1509.4 1755,1516.6 1759.8,1522.6 1765.8,1523.8 1769.4,1519 1777.2,1520.2 1783.2,1527.4 1788.1,1522.6 1793.5,1529.8 1797.7,1517.8 1806.1,1515.4 1812.1,1517.8 1818.2,1522.6 1823,1525.6 1830.2,1521.4 1837.4,1519 1842.2,1529.8 1848.3,1521.4 1854.3,1513 1860.3,1515.4 1865.1,1527.4 1869.9,1514.2 1876,1514.2 1883.2,1517.8 1890.4,1521.4 1896.4,1516.6 1903.7,1516.6 1909.7,1520.2 1914.5,1525 1919.3,1517.8 1925.3,1513 1931.3,1516.6 1937.4,1513 1943.4,1508.2" fill="none" stroke="#000" stroke-width="5.6" stroke-linejoin="round" stroke-linecap="round"/>
<polyline points="840.7,1230.6 861.2,1230.6" fill="none" stroke="#000" stroke-width="6" stroke-linejoin="round" stroke-linecap="butt"/>
<polyline points="884.1,1230.6 904.5,1230.6" fill="none" stroke="#000" stroke-width="6" stroke-linejoin="round" stroke-linecap="butt"/>
<polyline points="927.4,1230.6 947.9,1230.6" fill="none" stroke="#000" stroke-width="6" stroke-linejoin="round" stroke-linecap="butt"/>
<polyline points="970.8,1230.6 991.2,1230.6" fill="none" stroke="#000" stroke-width="6" stroke-linejoin="round" stroke-linecap="butt"/>
<polygon points="301.7,626.8 512.8,630.5 513.6,735 304.2,731.7" fill="#fff" stroke="#000" stroke-width="3.1"/>
<polyline points="326.2,655.8 434.5,659.6" fill="none" stroke="#000" stroke-width="5.9" stroke-linejoin="round" stroke-linecap="butt"/>
<polyline points="326.2,702.6 346,703.4" fill="none" stroke="#000" stroke-width="5.8" stroke-linejoin="round" stroke-linecap="butt"/>
<polyline points="371.3,703.4 391.5,703.9" fill="none" stroke="#000" stroke-width="5.8" stroke-linejoin="round" stroke-linecap="butt"/>
<polyline points="415.5,704.4 435.7,705.1" fill="none" stroke="#000" stroke-width="5.8" stroke-linejoin="round" stroke-linecap="butt"/>
<text x="447.5" y="670.5" font-size="37" font-family='"Liberation Sans", sans-serif' text-anchor="start" transform="rotate(1 447.5 670.5)"  stroke="#000" stroke-width="0.45">car</text>
<text x="447" y="717.8" font-size="37" font-family='"Liberation Sans", sans-serif' text-anchor="start" transform="rotate(1 447 717.8)"  stroke="#000" stroke-width="0.45">rail</text>
<text x="111.3" y="1941.4" font-size="40" font-family='"Liberation Serif", serif' text-anchor="start" textLength="92.1" lengthAdjust="spacingAndGlyphs" stroke="#000" stroke-width="0.5">Note:</text>
<text x="222.7" y="1941.6" font-size="40" font-family='"Liberation Serif", serif' text-anchor="start" textLength="77" lengthAdjust="spacingAndGlyphs" stroke="#000" stroke-width="0.5">This</text>
<text x="314.8" y="1941.8" font-size="40" font-family='"Liberation Serif", serif' text-anchor="start" textLength="95.1" lengthAdjust="spacingAndGlyphs" stroke="#000" stroke-width="0.5">figure</text>
<text x="424.4" y="1942" font-size="40" font-family='"Liberation Serif", serif' text-anchor="start" textLength="98.1" lengthAdjust="spacingAndGlyphs" stroke="#000" stroke-width="0.5">shows</text>
<text x="538.8" y="1942.2" font-size="40" font-family='"Liberation Serif", serif' text-anchor="start" textLength="176.4" lengthAdjust="spacingAndGlyphs" stroke="#000" stroke-width="0.5">simulation</text>
<text x="732" y="1942.6" font-size="40" font-family='"Liberation Serif", serif' text-anchor="start" textLength="91.6" lengthAdjust="spacingAndGlyphs" stroke="#000" stroke-width="0.5">paths</text>
<text x="839.8" y="1942.8" font-size="40" font-family='"Liberation Serif", serif' text-anchor="start" textLength="33.7" lengthAdjust="spacingAndGlyphs" stroke="#000" stroke-width="0.5">of</text>
<text x="889.8" y="1942.9" font-size="40" font-family='"Liberation Serif", serif' text-anchor="start" textLength="87.3" lengthAdjust="spacingAndGlyphs" stroke="#000" stroke-width="0.5">wage,</text>
<text x="995.1" y="1943.1" font-size="40" font-family='"Liberation Serif", serif' text-anchor="start" textLength="184.6" lengthAdjust="spacingAndGlyphs" stroke="#000" stroke-width="0.5">population</text>
<text x="1195.3" y="1943.5" font-size="40" font-family='"Liberation Serif", serif' text-anchor="start" textLength="62.7" lengthAdjust="spacingAndGlyphs" stroke="#000" stroke-width="0.5">and</text>
<text x="1273.6" y="1943.6" font-size="40" font-family='"Liberation Serif", serif' text-anchor="start" textLength="84.3" lengthAdjust="spacingAndGlyphs" stroke="#000" stroke-width="0.5">CBD</text>
<text x="1372.9" y="1943.8" font-size="40" font-family='"Liberation Serif", serif' text-anchor="start" textLength="70.5" lengthAdjust="spacingAndGlyphs" stroke="#000" stroke-width="0.5">rent</text>
<text x="1459.6" y="1944" font-size="40" font-family='"Liberation Serif", serif' text-anchor="start" textLength="75.3" lengthAdjust="spacingAndGlyphs" stroke="#000" stroke-width="0.5">with</text>
<text x="1551.7" y="1944.1" font-size="40" font-family='"Liberation Serif", serif' text-anchor="start" textLength="63.3" lengthAdjust="spacingAndGlyphs" stroke="#000" stroke-width="0.5">and</text>
<text x="1630" y="1944.3" font-size="40" font-family='"Liberation Serif", serif' text-anchor="start" textLength="134.3" lengthAdjust="spacingAndGlyphs" stroke="#000" stroke-width="0.5">without</text>
<text x="1781.7" y="1944.6" font-size="40" font-family='"Liberation Serif", serif' text-anchor="start" textLength="125.3" lengthAdjust="spacingAndGlyphs" stroke="#000" stroke-width="0.5">moving</text>
<text x="1920.2" y="1944.8" font-size="40" font-family='"Liberation Serif", serif' text-anchor="start" textLength="77.1" lengthAdjust="spacingAndGlyphs" stroke="#000" stroke-width="0.5">cost.</text>
<text x="1022" y="2746" font-size="52" font-family='"Liberation Serif", serif' text-anchor="start" textLength="47" lengthAdjust="spacingAndGlyphs" stroke="#000" stroke-width="1.9">31</text>
<circle cx="677" cy="568" r="1.6" fill="#222"/>
<circle cx="1098" cy="510" r="1.5" fill="#333"/>
<circle cx="1615" cy="677" r="1.3" fill="#555"/>
<circle cx="898.5" cy="742" r="1.2" fill="#888"/>
<circle cx="1087" cy="818" r="1.3" fill="#666"/>
<circle cx="1083.5" cy="2224.8" r="1.5" fill="#333"/>
<circle cx="1592.6" cy="2409.7" r="1.6" fill="#222"/>
<circle cx="39" cy="2286" r="1.2" fill="#777"/>
<circle cx="557" cy="1845" r="1.4" fill="#444"/>
<circle cx="1689" cy="36" r="1.0" fill="#aaa"/>
<circle cx="492" cy="487" r="1.0" fill="#aaa"/>
</g>
<rect x="2162" y="0" width="1" height="2880" fill="#000"/>
</svg>
</body></html>
